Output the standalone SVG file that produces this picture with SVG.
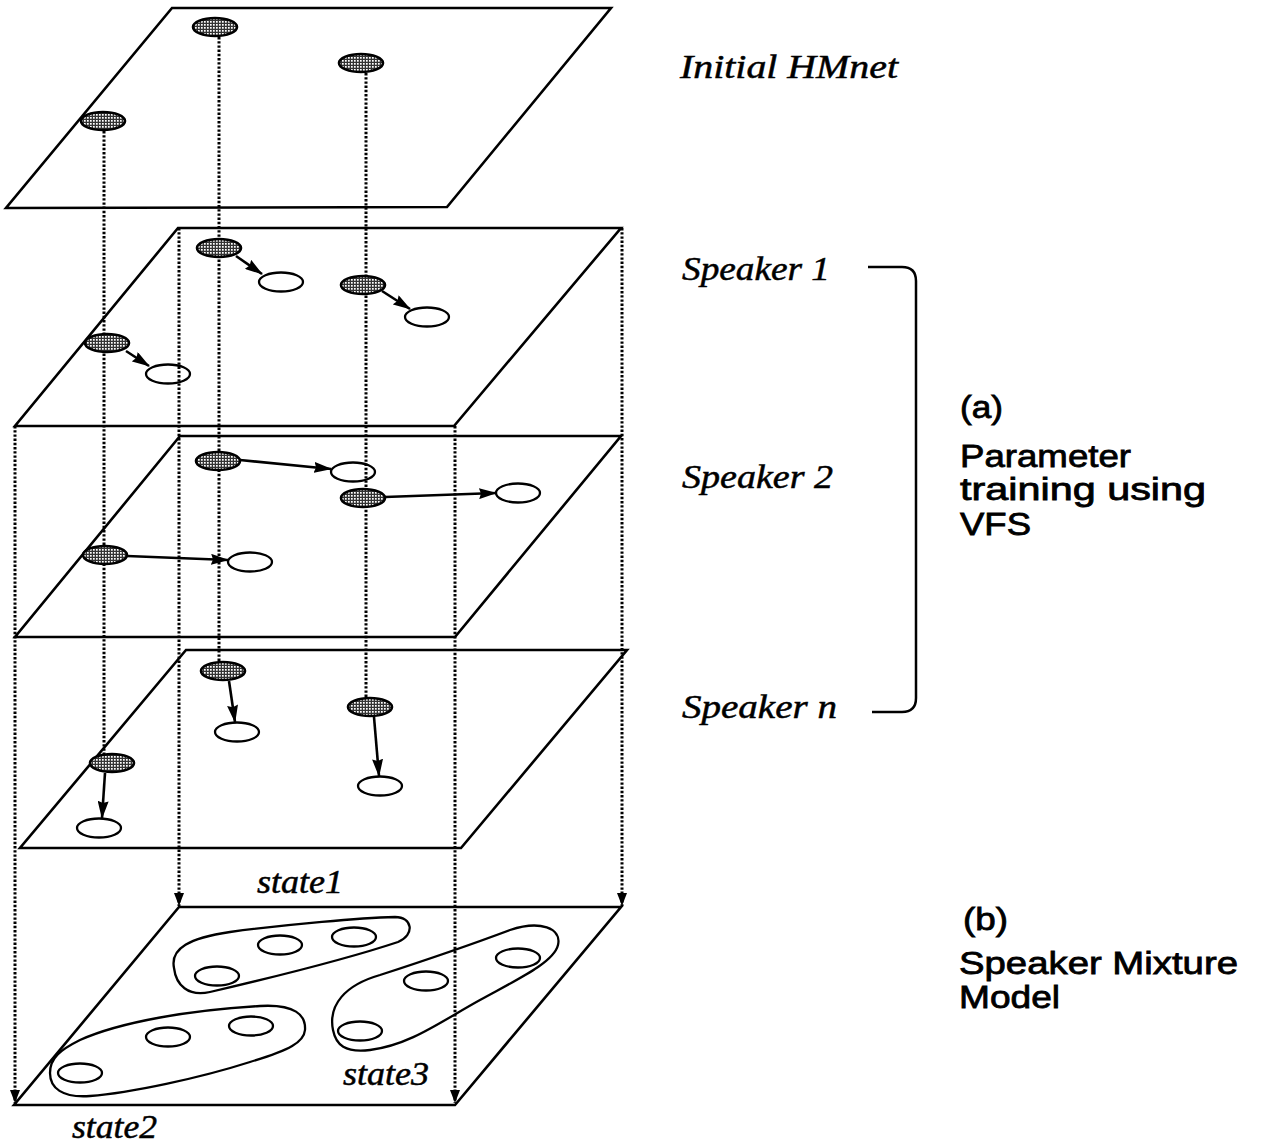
<svg xmlns="http://www.w3.org/2000/svg" width="1268" height="1147" viewBox="0 0 1268 1147">
<style>
.plane{fill:none;stroke:#000;stroke-width:2.6;stroke-linejoin:miter}
.dot{fill:none;stroke:#000;stroke-width:3;stroke-dasharray:2.4 1.8}
.filled{fill:url(#halftone);stroke:#000;stroke-width:2.6}
.open{fill:none;stroke:#000;stroke-width:2.3}
.arr{fill:none;stroke:#000;stroke-width:2.6}
.clu{fill:none;stroke:#000;stroke-width:2.3}
.ser{font-family:"Liberation Serif","Times New Roman",serif;font-style:italic;font-size:33px;fill:#000;stroke:#000;stroke-width:0.5}
.sans{font-family:"Liberation Sans",Arial,Helvetica,sans-serif;font-size:32px;fill:#000;stroke:#000;stroke-width:0.8}
</style>
<defs>
<pattern id="halftone" width="3" height="3" patternUnits="userSpaceOnUse">
<rect width="3" height="3" fill="#333"/>
<rect x="0" y="0" width="1.7" height="1.7" fill="#fff"/>
</pattern>
<marker id="ah" markerUnits="userSpaceOnUse" markerWidth="18" markerHeight="11" refX="17" refY="5.5" orient="auto">
<path d="M0,0 L18,5.5 L0,11 L2,5.5 z" fill="#000"/>
</marker>
<marker id="dh" markerUnits="userSpaceOnUse" markerWidth="13" markerHeight="10" refX="13" refY="5" orient="auto">
<path d="M0,0 L13,5 L0,10 z" fill="#000"/>
</marker>
</defs>
<rect width="1268" height="1147" fill="#fff"/>

<g id="planes">
<polygon id="plane-initial" class="plane" points="172,8 611,8 447,207 6,208"/>
<polygon id="plane-speaker1" class="plane" points="178,228 621,228 454,426 15,426"/>
<polygon id="plane-speaker2" class="plane" points="180,436 621,436 455,637 15,637"/>
<polygon id="plane-speakern" class="plane" points="186,650 627,650 461,848 20,848"/>
<polygon id="plane-mixture" class="plane" points="179,907 621,907 455,1105 14,1105"/>
</g>

<g id="connectors">
<line class="dot" x1="104" y1="131" x2="104" y2="754"/>
<line class="dot" x1="219" y1="37" x2="219" y2="662"/>
<line class="dot" x1="366" y1="73" x2="366" y2="698"/>
<line class="dot" x1="15" y1="426" x2="15" y2="1103" marker-end="url(#dh)"/>
<line class="dot" x1="179" y1="228" x2="179" y2="906" marker-end="url(#dh)"/>
<line class="dot" x1="455" y1="426" x2="455" y2="1103" marker-end="url(#dh)"/>
<line class="dot" x1="622" y1="228" x2="622" y2="906" marker-end="url(#dh)"/>
<line class="arr" x1="236" y1="256" x2="262" y2="274" marker-end="url(#ah)"/>
<line class="arr" x1="382" y1="291" x2="410" y2="309" marker-end="url(#ah)"/>
<line class="arr" x1="126" y1="351" x2="149" y2="366" marker-end="url(#ah)"/>
<line class="arr" x1="240" y1="460" x2="331" y2="469" marker-end="url(#ah)"/>
<line class="arr" x1="385" y1="497" x2="496" y2="493" marker-end="url(#ah)"/>
<line class="arr" x1="127" y1="556" x2="228" y2="560" marker-end="url(#ah)"/>
<line class="arr" x1="229" y1="681" x2="235" y2="722" marker-end="url(#ah)"/>
<line class="arr" x1="374" y1="717" x2="379" y2="776" marker-end="url(#ah)"/>
<line class="arr" x1="105" y1="773" x2="102" y2="818" marker-end="url(#ah)"/>
</g>

<g id="node-init-a"><ellipse class="filled" cx="215" cy="27" rx="22" ry="9"/></g>
<g id="node-init-b"><ellipse class="filled" cx="361" cy="63" rx="22" ry="9"/></g>
<g id="node-init-c"><ellipse class="filled" cx="103" cy="121" rx="22" ry="9"/></g>

<g id="node-s1-a"><ellipse class="filled" cx="219" cy="248" rx="22" ry="9"/></g>
<g id="node-s1-b"><ellipse class="filled" cx="363" cy="285" rx="22" ry="9"/></g>
<g id="node-s1-c"><ellipse class="filled" cx="107" cy="343" rx="22" ry="9"/></g>
<g id="node-s1-a2"><ellipse class="open" cx="281" cy="282" rx="22" ry="9.5"/></g>
<g id="node-s1-b2"><ellipse class="open" cx="427" cy="317" rx="22" ry="9.5"/></g>
<g id="node-s1-c2"><ellipse class="open" cx="168" cy="374" rx="22" ry="9.5"/></g>

<g id="node-s2-a"><ellipse class="filled" cx="218" cy="461" rx="22" ry="9"/></g>
<g id="node-s2-b"><ellipse class="filled" cx="363" cy="498" rx="22" ry="9"/></g>
<g id="node-s2-c"><ellipse class="filled" cx="105" cy="555" rx="22" ry="9"/></g>
<g id="node-s2-a2"><ellipse class="open" cx="353" cy="472" rx="22" ry="9.5"/></g>
<g id="node-s2-b2"><ellipse class="open" cx="518" cy="493" rx="22" ry="9.5"/></g>
<g id="node-s2-c2"><ellipse class="open" cx="250" cy="562" rx="22" ry="9.5"/></g>

<g id="node-sn-a"><ellipse class="filled" cx="223" cy="671" rx="22" ry="9"/></g>
<g id="node-sn-b"><ellipse class="filled" cx="370" cy="707" rx="22" ry="9"/></g>
<g id="node-sn-c"><ellipse class="filled" cx="112" cy="763" rx="22" ry="9"/></g>
<g id="node-sn-a2"><ellipse class="open" cx="237" cy="732" rx="22" ry="9.5"/></g>
<g id="node-sn-b2"><ellipse class="open" cx="380" cy="786" rx="22" ry="9.5"/></g>
<g id="node-sn-c2"><ellipse class="open" cx="99" cy="828" rx="22" ry="9.5"/></g>

<g id="state1">
<path class="clu" d="M174,968 C170,948 190,938 230,932 C290,924 360,918 395,917 C413,917 415,935 398,942 C350,958 270,978 210,992 C188,997 176,985 174,968 Z"/>
<ellipse class="open" cx="217" cy="976" rx="22" ry="9.5"/>
<ellipse class="open" cx="280" cy="945" rx="22" ry="9.5"/>
<ellipse class="open" cx="354" cy="937" rx="22" ry="9.5"/>
</g>
<g id="state2">
<path class="clu" d="M50,1073 C50,1058 60,1050 80,1040 C120,1022 190,1010 260,1006 C295,1004 306,1015 305,1030 C304,1042 290,1050 250,1062 C200,1078 130,1093 90,1096 C62,1098 50,1088 50,1073 Z"/>
<ellipse class="open" cx="80" cy="1073" rx="22" ry="9.5"/>
<ellipse class="open" cx="168" cy="1037" rx="22" ry="9.5"/>
<ellipse class="open" cx="251" cy="1026" rx="22" ry="9.5"/>
</g>
<g id="state3">
<path class="clu" d="M333,1030 C328,1005 345,985 380,975 C420,962 470,945 510,930 C540,920 562,928 558,945 C554,962 520,978 480,1000 C440,1022 410,1045 370,1050 C345,1053 336,1045 333,1030 Z"/>
<ellipse class="open" cx="426" cy="981" rx="22" ry="9.5"/>
<ellipse class="open" cx="518" cy="958" rx="22" ry="9.5"/>
<ellipse class="open" cx="360" cy="1031" rx="22" ry="9.5"/>
</g>

<g id="bracket">
<path d="M868,267 L902,267 Q916,267 916,281 L916,698 Q916,712 902,712 L872,712" fill="none" stroke="#000" stroke-width="2.5"/>
</g>

<g id="labels">
<text class="ser" x="680" y="78" textLength="218" lengthAdjust="spacingAndGlyphs">Initial HMnet</text>
<text class="ser" x="682" y="280" textLength="148" lengthAdjust="spacingAndGlyphs">Speaker 1</text>
<text class="ser" x="682" y="488" textLength="151" lengthAdjust="spacingAndGlyphs">Speaker 2</text>
<text class="ser" x="682" y="718" textLength="155" lengthAdjust="spacingAndGlyphs">Speaker n</text>
<text class="ser" x="257" y="893" font-size="31" textLength="86" lengthAdjust="spacingAndGlyphs">state1</text>
<text class="ser" x="72" y="1138" font-size="31" textLength="85" lengthAdjust="spacingAndGlyphs">state2</text>
<text class="ser" x="343" y="1085" font-size="31" textLength="86" lengthAdjust="spacingAndGlyphs">state3</text>
<text class="sans" x="960" y="418" textLength="43" lengthAdjust="spacingAndGlyphs">(a)</text>
<text class="sans" x="960" y="467" textLength="171" lengthAdjust="spacingAndGlyphs">Parameter</text>
<text class="sans" x="960" y="500" textLength="246" lengthAdjust="spacingAndGlyphs">training using</text>
<text class="sans" x="960" y="535" textLength="71" lengthAdjust="spacingAndGlyphs">VFS</text>
<text class="sans" x="963" y="930" textLength="45" lengthAdjust="spacingAndGlyphs">(b)</text>
<text class="sans" x="959" y="974" textLength="279" lengthAdjust="spacingAndGlyphs">Speaker Mixture</text>
<text class="sans" x="959" y="1008" textLength="101" lengthAdjust="spacingAndGlyphs">Model</text>
</g>
</svg>
